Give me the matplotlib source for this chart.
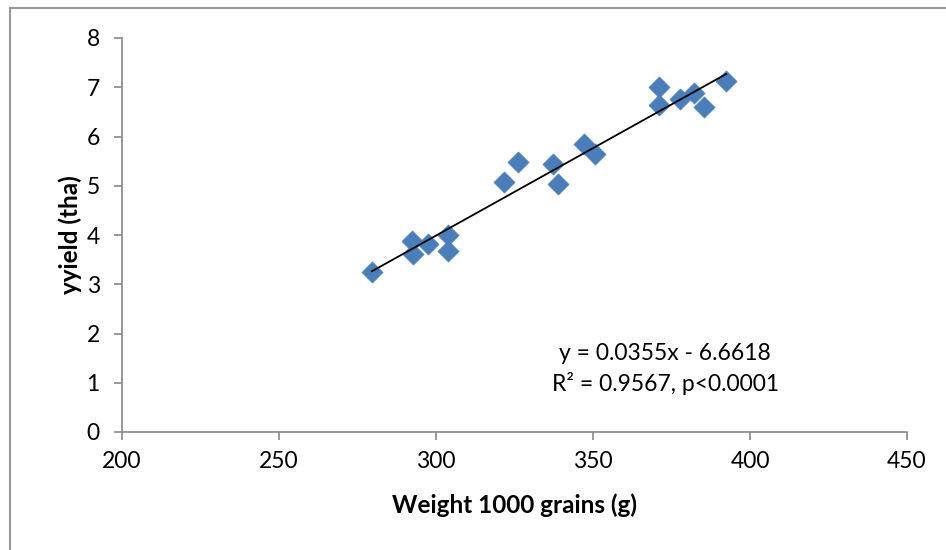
import matplotlib
matplotlib.use("Agg")
import matplotlib.pyplot as plt
import numpy as np
from matplotlib.lines import Line2D

plt.rcParams['font.family'] = ['Lato', 'DejaVu Sans']

weight = [279.6, 292.4, 292.7, 297.5, 303.8, 303.8, 321.7, 326.1, 337.3, 338.9,
          347.1, 350.6, 371.0, 371.0, 377.7, 382.2, 385.4, 392.4]
yield_tha = [3.25, 3.88, 3.61, 3.82, 4.00, 3.68, 5.08, 5.48, 5.44, 5.04,
             5.85, 5.64, 7.00, 6.64, 6.76, 6.88, 6.60, 7.13]
slope = 0.0355
intercept = -6.6618
x_ticks = [200, 250, 300, 350, 400, 450]
y_ticks = [0, 1, 2, 3, 4, 5, 6, 7, 8]

W, H = 946, 550
fig = plt.figure(figsize=(W / 100, H / 100), dpi=100)
ax = fig.add_axes([122 / W, 1 - 432 / H, (907 - 122) / W, (432 - 38) / H])

ax.scatter(weight, yield_tha, marker='D', s=115, color='#4A7EBB', edgecolors='#4A7EBB',
           linewidths=0.5, zorder=3)
xl = np.array([min(weight), max(weight)])
ax.plot(xl, slope * xl + intercept, color='black', lw=1.3, zorder=4)

ax.set_xlim(200, 450)
ax.set_ylim(0, 8)
ax.set_xticks(x_ticks)
ax.set_yticks(y_ticks)
for s in ['top', 'right']:
    ax.spines[s].set_visible(False)
for s in ['left', 'bottom']:
    ax.spines[s].set_color('#888888')
    ax.spines[s].set_linewidth(1.2)
ax.tick_params(axis='both', colors='#888888', labelcolor='black', labelsize=16.5,
               length=6, width=1.2, direction='out')
ax.tick_params(axis='x', pad=8)
ax.tick_params(axis='y', pad=10)

ax.set_xlabel('Weight 1000 grains (g)', fontsize=17.5, fontweight='bold', labelpad=15)
ax.set_ylabel('yyield (tha)', fontsize=17.5, fontweight='bold', labelpad=3)

ax.text(0.692, 0.16, 'y = 0.0355x - 6.6618\nR² = 0.9567, p<0.0001',
        transform=ax.transAxes, ha='center', va='center', fontsize=16.5, linespacing=1.45)

# outer chart frame
fig.add_artist(Line2D([10 / W, 10 / W], [0, 1 - 8 / H], transform=fig.transFigure,
                      color='#999999', lw=1.5))
fig.add_artist(Line2D([10 / W, 1], [1 - 8 / H, 1 - 8 / H], transform=fig.transFigure,
                      color='#999999', lw=1.5))

fig.savefig('out.png', dpi=100)
